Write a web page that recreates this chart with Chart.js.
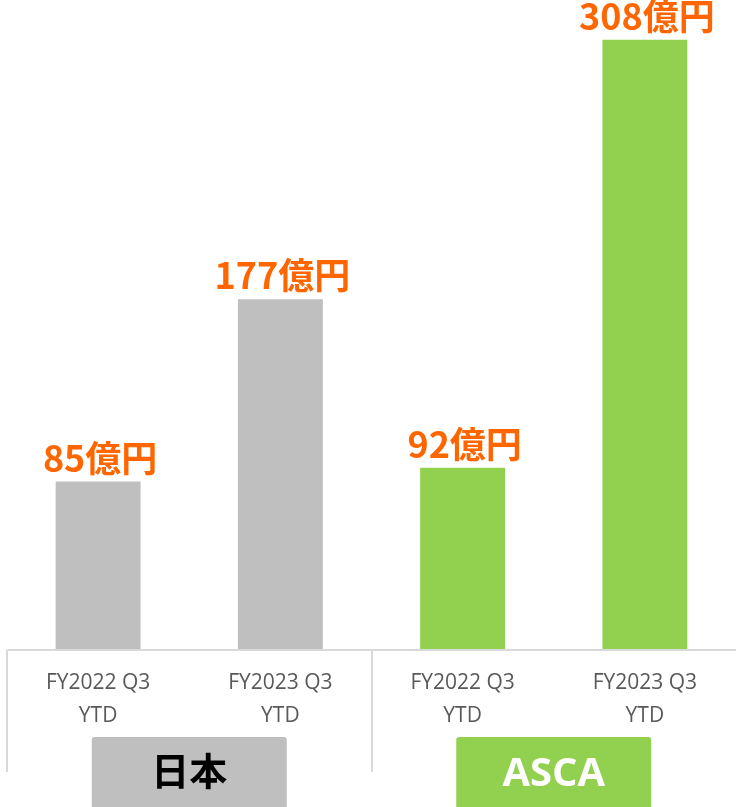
<!DOCTYPE html>
<html>
<head>
<meta charset="utf-8">
<script src="https://cdn.jsdelivr.net/npm/chart.js@4"></script>
<style>
  html, body { margin: 0; padding: 0; background: #fff; }
  #wrap { width: 736px; height: 807px; position: relative; }
</style>
</head>
<body>
<div id="wrap"><canvas id="salesChart"></canvas></div>
<script>
// data
var categories = [['FY2022 Q3', 'YTD'], ['FY2023 Q3', 'YTD'], ['FY2022 Q3', 'YTD'], ['FY2023 Q3', 'YTD']];
var values = [85, 177, 92, 308];
var valueLabels = ['85億円', '177億円', '92億円', '308億円'];
var groups = ['日本', 'ASCA'];
var barColors = ['#bfbfbf', '#bfbfbf', '#92d050', '#92d050'];
var groupColors = ['#bfbfbf', '#92d050'];
var groupTextColors = ['#000000', '#ffffff'];

var CJK = '"Noto Sans CJK JP", "Noto Sans", sans-serif';

// value labels above bars
var labelPlugin = {
  id: 'valueLabels',
  afterDatasetsDraw: function (chart) {
    var ctx = chart.ctx;
    var meta = chart.getDatasetMeta(0);
    ctx.save();
    ctx.font = 'bold 36px ' + CJK;
    ctx.fillStyle = '#ff6600';
    ctx.textAlign = 'center';
    ctx.textBaseline = 'alphabetic';
    meta.data.forEach(function (bar, i) {
      ctx.fillText(valueLabels[i], bar.x + 2, bar.y - 10);
    });
    ctx.restore();
  }
};

// axis line, separators and group boxes
var groupPlugin = {
  id: 'groupBoxes',
  afterDraw: function (chart) {
    var ctx = chart.ctx;
    var x = chart.scales.x;
    var area = chart.chartArea;
    var half = (x.getPixelForValue(1) - x.getPixelForValue(0)) / 2;
    ctx.save();
    ctx.strokeStyle = '#d9d9d9';
    ctx.lineWidth = 2;
    ctx.beginPath();
    ctx.moveTo(area.left, area.bottom);
    ctx.lineTo(area.right, area.bottom);
    ctx.stroke();
    [0, 2].forEach(function (i) {
      var px = Math.round(x.getPixelForValue(i) - half);
      ctx.beginPath();
      ctx.moveTo(px, area.bottom);
      ctx.lineTo(px, area.bottom + 122);
      ctx.stroke();
    });
    groups.forEach(function (g, gi) {
      var cx = (x.getPixelForValue(gi * 2) + x.getPixelForValue(gi * 2 + 1)) / 2;
      var w = 195;
      var top = area.bottom + 87;
      ctx.fillStyle = groupColors[gi];
      ctx.beginPath();
      ctx.roundRect(cx - w / 2, top, w, 90, 3);
      ctx.fill();
      ctx.fillStyle = groupTextColors[gi];
      ctx.textAlign = 'center';
      ctx.textBaseline = 'middle';
      if (gi === 0) {
        ctx.font = 'bold 38px ' + CJK;
        ctx.fillText(g, cx, top + 34);
      } else {
        ctx.font = 'bold 40px "Open Sans", sans-serif';
        ctx.fillText(g, cx, top + 38);
      }
    });
    ctx.restore();
  }
};

document.addEventListener('DOMContentLoaded', function () {
  var ctx = document.getElementById('salesChart').getContext('2d');
  new Chart(ctx, {
    type: 'bar',
    data: {
      labels: categories,
      datasets: [{
        data: values,
        backgroundColor: barColors,
        categoryPercentage: 1,
        barPercentage: 0.466
      }]
    },
    options: {
      responsive: true,
      maintainAspectRatio: false,
      animation: false,
      layout: { padding: { left: 7, right: 0, top: 0, bottom: 0 } },
      plugins: { legend: { display: false }, tooltip: { enabled: false } },
      scales: {
        x: {
          grid: { display: false },
          border: { display: false },
          ticks: {
            color: '#595959',
            font: { family: '"Open Sans", sans-serif', size: 21, lineHeight: '33px' },
            padding: 9,
            maxRotation: 0,
            autoSkip: false
          },
          afterFit: function (scale) { scale.height = 157; }
        },
        y: { display: false, min: 0, max: 328 }
      }
    },
    plugins: [labelPlugin, groupPlugin]
  });
});
</script>
</body>
</html>
